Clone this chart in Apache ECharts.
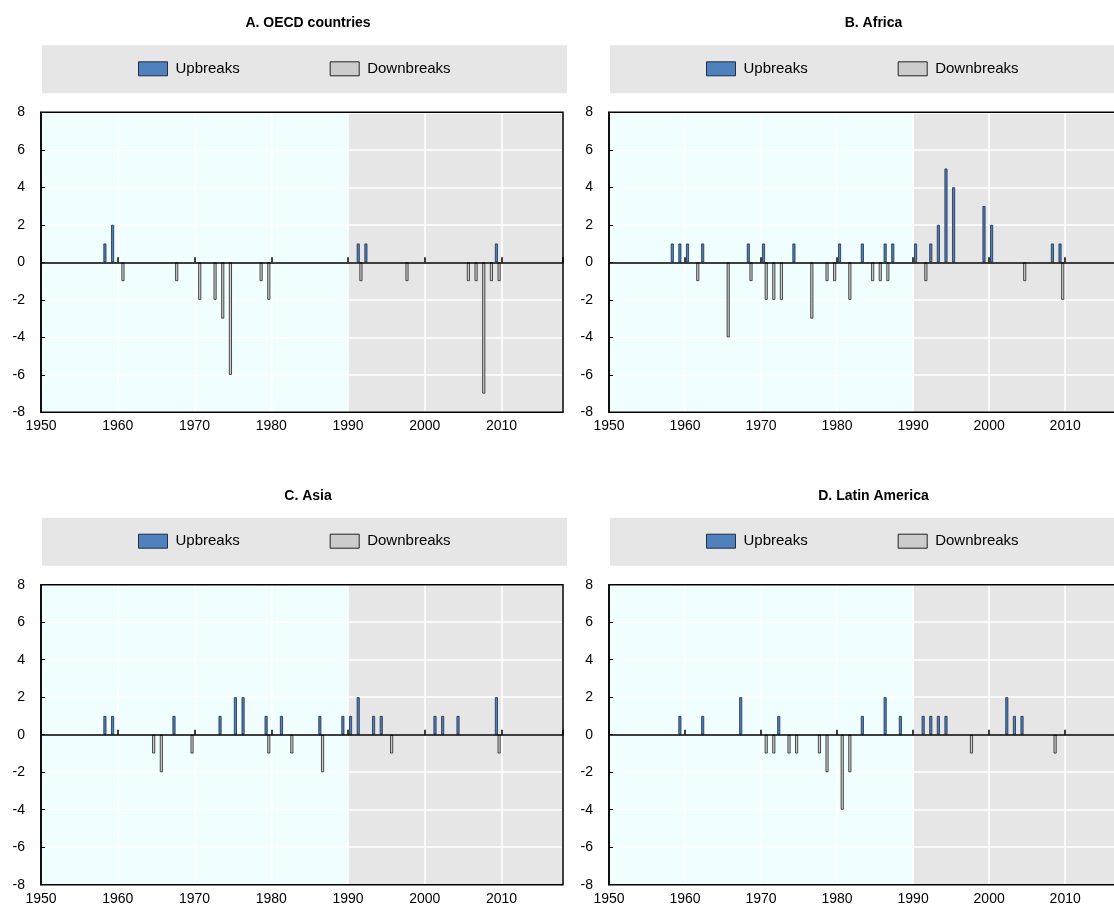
<!DOCTYPE html>
<html><head><meta charset="utf-8">
<script src="https://cdn.jsdelivr.net/npm/echarts@6/dist/echarts.min.js"></script>
<style>html,body{margin:0;padding:0;background:#fff}#c{width:1114px;height:907px}</style>
</head><body><div id="c"></div>
<script>
// ---------- data ----------
const panelTitles = ['A. OECD countries', 'B. Africa', 'C. Asia', 'D. Latin America'];
const seriesNames = ['Upbreaks', 'Downbreaks'];
const xTickLabels = ['1950', '1960', '1970', '1980', '1990', '2000', '2010'];
const yTickLabels = ['-8', '-6', '-4', '-2', '0', '2', '4', '6', '8'];
const firstYear = 1950, lastYear = 2017, shadeFrom = 1990;
const years = [];
for (let y = firstYear; y <= lastYear; y++) years.push(String(y));

const oecdUp = [[1958,1],[1959,2],[1991,1],[1992,1],[2009,1]];
const oecdDown = [[1960,-1],[1967,-1],[1970,-2],[1972,-2],[1973,-3],[1974,-6],[1978,-1],[1979,-2],[1991,-1],[1997,-1],[2005,-1],[2006,-1],[2007,-7],[2008,-1],[2009,-1]];

const africaUp = [[1958,1],[1959,1],[1960,1],[1962,1],[1968,1],[1970,1],[1974,1],[1980,1],[1983,1],[1986,1],[1987,1],[1990,1],[1992,1],[1993,2],[1994,5],[1995,4],[1999,3],[2000,2],[2008,1],[2009,1]];
const africaDown = [[1961,-1],[1965,-4],[1968,-1],[1970,-2],[1971,-2],[1972,-2],[1976,-3],[1978,-1],[1979,-1],[1981,-2],[1984,-1],[1985,-1],[1986,-1],[1991,-1],[2004,-1],[2009,-2]];

const asiaUp = [[1958,1],[1959,1],[1967,1],[1973,1],[1975,2],[1976,2],[1979,1],[1981,1],[1986,1],[1989,1],[1990,1],[1991,2],[1993,1],[1994,1],[2001,1],[2002,1],[2004,1],[2009,2]];
const asiaDown = [[1964,-1],[1965,-2],[1969,-1],[1979,-1],[1982,-1],[1986,-2],[1995,-1],[2009,-1]];

const latamUp = [[1959,1],[1962,1],[1967,2],[1972,1],[1983,1],[1986,2],[1988,1],[1991,1],[1992,1],[1993,1],[1994,1],[2002,2],[2003,1],[2004,1]];
const latamDown = [[1970,-1],[1971,-1],[1973,-1],[1974,-1],[1977,-1],[1978,-2],[1980,-4],[1981,-2],[1997,-1],[2008,-1]];

const panelUp = [oecdUp, africaUp, asiaUp, latamUp];
const panelDown = [oecdDown, africaDown, asiaDown, latamDown];

// ---------- layout / style ----------
const panelLeft = [41, 609, 41, 609];
const panelTop = [112.3, 112.3, 584.7, 584.7];
const panelWidth = [522, 517, 522, 517];
const panelHeight = 300;
const FONT = '"Liberation Sans", Arial, sans-serif';
const upColor = '#4F81BD', upBorder = '#1F2D46';
const downColor = '#CCCCCC', downBorder = '#222222';
const cyanBg = '#F0FEFF', grayBg = '#E6E6E6';

const grids = [], xAxes = [], yAxes = [], series = [], titles = [], legends = [], graphics = [];
for (let g = 0; g < 4; g++) {
  const L = panelLeft[g], T = panelTop[g], W = panelWidth[g];
  grids.push({left: L, top: T, width: W, height: panelHeight, show: true,
    outerBoundsMode: 'none', containLabel: false,
    backgroundColor: 'transparent', borderColor: '#000', borderWidth: 1.5, z: 4});
  // category axis (bars), drawn on the zero line with inner ticks
  xAxes.push({type: 'category', gridIndex: g, data: years, boundaryGap: true, position: 'bottom', z: 3,
    axisLine: {show: true, onZero: true, lineStyle: {color: '#000', width: 1.5}},
    axisTick: {show: true, inside: true, interval: 9, length: 5, lineStyle: {color: '#000', width: 1.5}},
    axisLabel: {show: false}, splitLine: {show: false}});
  // value axis (labels + vertical grid lines)
  xAxes.push({type: 'value', gridIndex: g, min: firstYear, max: lastYear + 1, interval: 10, position: 'bottom', z: 1.5,
    axisLine: {show: false, onZero: false}, axisTick: {show: false},
    axisLabel: {show: true, showMaxLabel: false, margin: 7, color: '#000', fontSize: 14, fontFamily: FONT,
      formatter: v => { const i = xTickLabels.indexOf(String(v)); return i >= 0 ? xTickLabels[i] : ''; }},
    splitLine: {show: true, lineStyle: {color: '#FFFFFF', width: 1.5}}});
  yAxes.push({type: 'value', gridIndex: g, min: -8, max: 8, interval: 2, z: 1.5,
    axisLine: {show: true, onZero: false, lineStyle: {color: '#000', width: 1.5}},
    axisTick: {show: true, inside: true, length: 4, lineStyle: {color: '#000', width: 1}},
    axisLabel: {color: '#000', fontSize: 14, fontFamily: FONT, margin: 16,
      formatter: v => { const i = yTickLabels.indexOf(String(v)); return i >= 0 ? yTickLabels[i] : ''; }},
    splitLine: {show: true, lineStyle: {color: '#FFFFFF', width: 1.5}}});
  const catIdx = g * 2, valIdx = g * 2 + 1;
  series.push({type: 'line', xAxisIndex: valIdx, yAxisIndex: g, data: [], silent: true,
    markArea: {silent: true, data: [
      [{xAxis: firstYear, itemStyle: {color: cyanBg}}, {xAxis: shadeFrom}],
      [{xAxis: shadeFrom, itemStyle: {color: grayBg}}, {xAxis: lastYear + 1}]
    ]}});
  series.push({type: 'bar', name: seriesNames[0], xAxisIndex: catIdx, yAxisIndex: g,
    data: panelUp[g].map(d => [String(d[0]), d[1]]), barWidth: 3, barGap: '-10%',
    itemStyle: {color: upColor, borderColor: upBorder, borderWidth: 0.8}, z: 2});
  series.push({type: 'bar', name: seriesNames[1], xAxisIndex: catIdx, yAxisIndex: g,
    data: panelDown[g].map(d => [String(d[0]), d[1]]), barWidth: 3, barGap: '-10%',
    itemStyle: {color: downColor, borderColor: downBorder, borderWidth: 0.8}, z: 2});
  titles.push({text: panelTitles[g], left: L + W / 2 + 1, top: T - 101, textAlign: 'center',
    textStyle: {fontSize: 14, fontWeight: 'bold', fontFamily: FONT, color: '#000'}});
  legends.push({show: true, data: [
      {name: seriesNames[0], icon: 'rect', itemStyle: {color: upColor, borderColor: upBorder, borderWidth: 1}},
      {name: seriesNames[1], icon: 'rect', itemStyle: {color: downColor, borderColor: downBorder, borderWidth: 1}}],
    left: L + 92, top: T - 56, itemWidth: 29, itemHeight: 14, itemGap: 90, selectedMode: false,
    textStyle: {fontSize: 15, fontFamily: FONT, color: '#000', padding: [0, 0, 0, 3]}});
  graphics.push({type: 'rect', shape: {x: L + 1, y: T - 67, width: W + 3, height: 48},
    style: {fill: grayBg}, z: -10, silent: true});
}

const chart = echarts.init(document.getElementById('c'), null, {renderer: 'canvas'});
chart.setOption({
  animation: false,
  backgroundColor: '#FFFFFF',
  title: titles,
  legend: legends,
  graphic: graphics,
  grid: grids,
  xAxis: xAxes,
  yAxis: yAxes,
  series: series
});
</script></body></html>
